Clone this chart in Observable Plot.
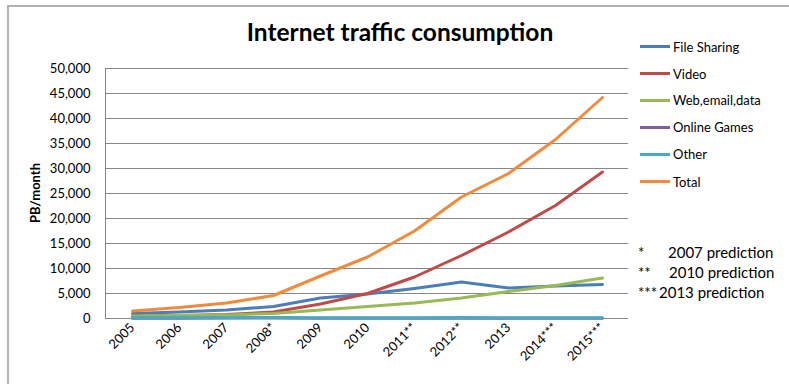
<!DOCTYPE html>
<html><head><meta charset="utf-8">
<script src="https://cdn.jsdelivr.net/npm/d3@7"></script>
<script src="https://cdn.jsdelivr.net/npm/@observablehq/plot@0.6"></script>
<style>
body{margin:0;background:#fff;}
#wrap{position:relative;width:789px;height:384px;font-family:Lato,"Open Sans",sans-serif;overflow:hidden;background:#fff;color:#000;}
#border{position:absolute;left:7px;top:5px;width:800px;height:400px;border-left:2px solid #b3b3b3;border-top:2px solid #b3b3b3;}
#chart{position:absolute;left:0;top:0;}
#title{position:absolute;left:0;width:800px;top:17px;text-align:center;font-weight:bold;font-size:24.5px;}
#ylab{position:absolute;left:35px;top:193px;transform:translate(-50%,-50%) rotate(-90deg);font-weight:bold;font-size:13px;white-space:nowrap;}
.leg{position:absolute;left:640px;height:20px;font-size:13px;white-space:nowrap;}
.leg .sw{position:absolute;left:0;top:-1.5px;width:30px;height:3px;}
.leg .tx{position:absolute;left:33px;top:-9px;line-height:18px;}
.note{position:absolute;left:638px;font-size:15px;white-space:nowrap;line-height:18px;}
.note .tx{position:absolute;top:0;}
</style></head>
<body>
<div id="wrap">
  <div id="border"></div>
  <div id="chart"></div>
  <div id="title">Internet traffic consumption</div>
  <div id="ylab">PB/month</div>
  <div id="legend"></div>
  <div id="notes"></div>
</div>
<script>
const years = ["2005","2006","2007","2008*","2009","2010","2011**","2012**","2013","2014***","2015***"];
const fileSharing = [1000,1300,1700,2400,4100,4900,6000,7300,6100,6500,6800];
const video       = [500,600,800,1300,2900,5000,8300,12600,17300,22600,29300];
const webEmail    = [500,600,700,1000,1700,2400,3100,4100,5400,6600,8100];
const onlineGames = [60,70,80,90,60,50,50,50,50,50,50];
const other       = [150,160,170,180,170,160,170,180,160,160,160];
const total       = [1500,2200,3100,4600,8500,12300,17500,24300,29000,35800,44200];
const seriesNames = ["File Sharing","Video","Web,email,data","Online Games","Other","Total"];
const seriesValues = [fileSharing, video, webEmail, onlineGames, other, total];
const seriesColors = ["#4a7ebb","#be4b48","#98b954","#7d60a0","#46aac5","#f08a3c"];
const yTicks = [0,5000,10000,15000,20000,25000,30000,35000,40000,45000,50000];
const notes = [["*","2007 prediction"],["**","2010 prediction"],["***","2013 prediction"]];

const rows = [];
seriesNames.forEach((s,i)=>seriesValues[i].forEach((v,j)=>rows.push({series:s, year:years[j], value:v})));

const plot = Plot.plot({
  width: 789, height: 384,
  marginLeft: 105, marginRight: 161, marginTop: 68, marginBottom: 66,
  style: {fontFamily: "Lato, 'Open Sans', sans-serif", background: "transparent", color: "#000"},
  x: {type: "point", domain: years, padding: 0.5, label: null},
  y: {domain: [0, 50000], label: null},
  color: {domain: seriesNames, range: seriesColors},
  marks: [
    Plot.gridY(yTicks, {stroke: "#878787", strokeOpacity: 1, strokeWidth: 1}),
    Plot.frame({anchor: "left", stroke: "#878787", strokeWidth: 1}),
    Plot.axisY(yTicks, {tickSize: 0, tickPadding: 15, tickFormat: d3.format(","), fontSize: 13, label: null}),
    Plot.axisX(years, {tickSize: 0, tickPadding: 7, tickRotate: -45, fontSize: 13, label: null}),
    ...seriesNames.map(s => Plot.line(rows.filter(r=>r.series===s), {
      x: "year", y: "value", stroke: "series", strokeWidth: 3, strokeLinejoin: "round", strokeLinecap: "round"
    }))
  ]
});
document.getElementById("chart").appendChild(plot);

const legY = [46.5, 73.5, 100, 127, 154, 181.5];
const leg = document.getElementById("legend");
seriesNames.forEach((s,i)=>{
  const d = document.createElement("div");
  d.className = "leg";
  d.style.top = legY[i] + "px";
  d.innerHTML = `<div class="sw" style="background:${seriesColors[i]}"></div><div class="tx">${s}</div>`;
  leg.appendChild(d);
});
const noteY = [243, 263, 283];
const noteX = [30, 31, 21];
const nt = document.getElementById("notes");
notes.forEach((n,i)=>{
  const d = document.createElement("div");
  d.className = "note";
  d.style.top = noteY[i] + "px";
  d.innerHTML = `<span>${n[0]}</span><span class="tx" style="left:${noteX[i]}px">${n[1]}</span>`;
  nt.appendChild(d);
});
</script>
</body></html>
